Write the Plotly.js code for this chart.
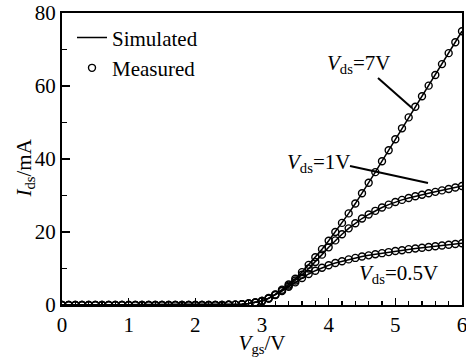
<!DOCTYPE html>
<html>
<head>
<meta charset="utf-8">
<script src="https://cdn.plot.ly/plotly-3.0.1.min.js"></script>
<style>html,body{margin:0;padding:0;background:#fff;}#chart{width:466px;height:357px;}</style>
</head>
<body>
<div id="chart"></div>
<script>
// Gate voltage Vgs (V), 0 to 6 in 0.1 V steps
const vgs = [0,0.1,0.2,0.3,0.4,0.5,0.6,0.7,0.8,0.9,1.0,1.1,1.2,1.3,1.4,1.5,1.6,1.7,1.8,1.9,2.0,2.1,2.2,2.3,2.4,2.5,2.6,2.7,2.8,2.9,3.0,3.1,3.2,3.3,3.4,3.5,3.6,3.7,3.8,3.9,4.0,4.1,4.2,4.3,4.4,4.5,4.6,4.7,4.8,4.9,5.0,5.1,5.2,5.3,5.4,5.5,5.6,5.7,5.8,5.9,6.0];
// Drain current Ids (mA)
const ids_05 = [0,0,0,0,0,0,0,0,0,0,0,0,0,0,0,0,0,0,0,0,0,0,0,0,0,0.05,0.1,0.2,0.4,0.7,1.1,1.8,2.7,3.8,5.0,6.2,7.4,8.5,9.4,10.2,10.9,11.5,12.0,12.5,12.9,13.3,13.6,13.9,14.2,14.5,14.8,15.0,15.3,15.5,15.7,15.9,16.1,16.3,16.5,16.7,16.9];
const ids_1 = [0,0,0,0,0,0,0,0,0,0,0,0,0,0,0,0,0,0,0,0,0,0,0,0,0,0.05,0.1,0.2,0.4,0.7,1.1,1.8,2.8,4.0,5.3,6.7,8.3,10.0,11.8,13.8,15.8,17.7,19.4,21.0,22.4,23.7,24.8,25.8,26.7,27.5,28.2,28.8,29.3,29.8,30.2,30.6,31.0,31.4,31.8,32.2,32.6];
const ids_7 = [0,0,0,0,0,0,0,0,0,0,0,0,0,0,0,0,0,0,0,0,0,0,0,0,0,0.05,0.1,0.2,0.4,0.7,1.1,1.9,2.9,4.2,5.6,7.2,9.0,11.0,13.1,15.3,17.6,20.0,22.5,25.1,27.8,30.6,33.5,36.4,39.4,42.4,45.4,48.4,51.4,54.3,57.2,60.1,63.0,66.0,69.0,72.0,75.0];
const seriesNames = ["V<sub>ds</sub>=0.5V","V<sub>ds</sub>=1V","V<sub>ds</sub>=7V"];
const xTickVals = [0,1,2,3,4,5,6];
const yTickVals = [0,20,40,60,80];

const FONT = "Liberation Serif";
const FS = 21;
const series = [ids_05, ids_1, ids_7];
const traces = [];
series.forEach((ys, i) => {
  traces.push({x: vgs, y: ys, mode: 'lines', type: 'scatter', name: 'Simulated',
    legendgroup: 'sim', showlegend: i === 0, line: {color: 'black', width: 1.5}, hoverinfo: 'skip'});
});
series.forEach((ys, i) => {
  traces.push({x: vgs, y: ys, mode: 'markers', type: 'scatter', name: 'Measured',
    legendgroup: 'meas', showlegend: i === 0,
    marker: {symbol: 'circle-open', size: 7, color: 'black', line: {width: 1.4, color: 'black'}}, hoverinfo: 'skip'});
});

const layout = {
  width: 466, height: 357,
  margin: {l: 62, r: 4, t: 13, b: 52},
  paper_bgcolor: 'white', plot_bgcolor: 'white',
  font: {family: FONT, size: FS, color: 'black'},
  showlegend: true,
  legend: {x: 0.025, y: 0.985, xanchor: 'left', yanchor: 'top', bgcolor: 'rgba(0,0,0,0)',
    font: {family: FONT, size: FS}, itemwidth: 30, tracegroupgap: 0},
  xaxis: {range: [0, 6], tickvals: xTickVals, ticks: 'inside', ticklen: 7, tickwidth: 1.5, tickcolor: 'black',
    ticklabeloverflow: 'allow',
    minor: {dtick: 0.2, ticks: 'inside', ticklen: 4, tickwidth: 1.5, tickcolor: 'black'},
    showline: true, linewidth: 2, linecolor: 'black', mirror: true, showgrid: false, zeroline: false,
    tickfont: {family: FONT, size: FS},
    title: {text: '<i>V</i><sub>gs</sub>/V', font: {family: FONT, size: FS}, standoff: 0}},
  yaxis: {range: [0, 80], tickvals: yTickVals, ticks: 'inside', ticklen: 8, tickwidth: 1.5, tickcolor: 'black',
    ticklabeloverflow: 'allow',
    minor: {dtick: 10, ticks: 'inside', ticklen: 5, tickwidth: 1.5, tickcolor: 'black'},
    showline: true, linewidth: 2, linecolor: 'black', mirror: true, showgrid: false, zeroline: false,
    tickfont: {family: FONT, size: FS},
    title: {text: ''}},
  annotations: [
    {x: -0.093, y: 0.47, xref: 'paper', yref: 'paper', xanchor: 'center', yanchor: 'middle', textangle: -90, text: '<i>I</i><sub>ds</sub>/mA', showarrow: false, font: {family: FONT, size: FS}},
    {x: 4.44, y: 66, xref: 'x', yref: 'y', text: '<i>V</i><sub>ds</sub>=7V', showarrow: false, font: {family: FONT, size: FS}},
    {x: 3.84, y: 39, xref: 'x', yref: 'y', text: '<i>V</i><sub>ds</sub>=1V', showarrow: false, font: {family: FONT, size: FS}},
    {x: 5.04, y: 8.6, xref: 'x', yref: 'y', text: '<i>V</i><sub>ds</sub>=0.5V', showarrow: false, font: {family: FONT, size: FS}}
  ],
  shapes: [
    {type: 'line', xref: 'x', yref: 'y', x0: 4.74, y0: 62.2, x1: 5.25, y1: 54, line: {color: 'black', width: 2}},
    {type: 'line', xref: 'x', yref: 'y', x0: 4.32, y0: 38.1, x1: 5.49, y1: 33.4, line: {color: 'black', width: 2}}
  ]
};

Plotly.newPlot('chart', traces, layout, {staticPlot: true, displayModeBar: false});
</script>
</body>
</html>
